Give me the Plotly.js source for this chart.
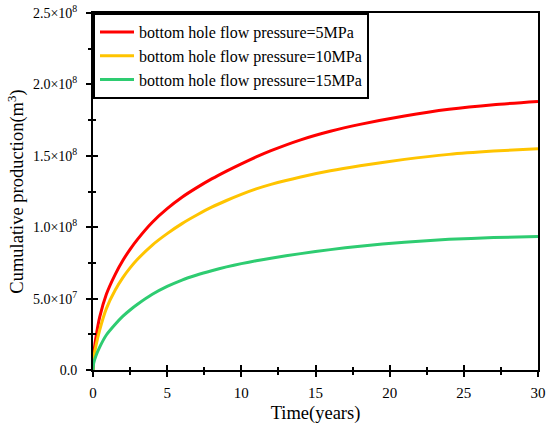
<!DOCTYPE html>
<html>
<head>
<meta charset="utf-8">
<script src="https://cdn.plot.ly/plotly-3.0.1.min.js"></script>
<style>html,body{margin:0;padding:0;background:#fff;}#chart{width:550px;height:427px;}</style>
</head>
<body>
<div id="chart"></div>
<script>
// Time (years)
var timeYears = [0, 0.05, 0.2, 0.45, 0.9, 1.5, 2, 2.5, 3, 4, 5, 6, 7, 8, 9, 10, 11, 12, 14, 16, 18, 21, 24, 27, 30];
// Cumulative production, in units of 1e8 m^3
var prod5MPa  = [0, 0.11, 0.23, 0.37, 0.53, 0.67, 0.765, 0.845, 0.915, 1.035, 1.13, 1.21, 1.277, 1.338, 1.393, 1.444, 1.492, 1.536, 1.612, 1.672, 1.72, 1.779, 1.826, 1.858, 1.88];
var prod10MPa = [0, 0.08, 0.17, 0.28, 0.43, 0.56, 0.645, 0.715, 0.775, 0.875, 0.955, 1.025, 1.085, 1.14, 1.187, 1.23, 1.268, 1.30, 1.352, 1.395, 1.43, 1.475, 1.51, 1.533, 1.55];
var prod15MPa = [0, 0.05, 0.10, 0.16, 0.245, 0.32, 0.375, 0.42, 0.46, 0.53, 0.585, 0.63, 0.665, 0.695, 0.722, 0.745, 0.765, 0.783, 0.815, 0.843, 0.867, 0.895, 0.915, 0.927, 0.934];
var seriesNames = ["bottom hole flow pressure=5MPa", "bottom hole flow pressure=10MPa", "bottom hole flow pressure=15MPa"];
var yTickVals = [0, 0.5, 1.0, 1.5, 2.0, 2.5];
var yTickText = ["0.0", "5.0×10<sup>7</sup>", "1.0×10<sup>8</sup>", "1.5×10<sup>8</sup>", "2.0×10<sup>8</sup>", "2.5×10<sup>8</sup>"];
var xTickVals = [0, 5, 10, 15, 20, 25, 30];

var FONT = "Liberation Serif, Times New Roman, serif";
var colors = ["#ff0000", "#ffc400", "#2ecc71"];
var series = [prod5MPa, prod10MPa, prod15MPa];

var traces = series.map(function (ys, i) {
  return {
    x: timeYears, y: ys, name: seriesNames[i], type: "scatter", mode: "lines",
    line: {color: colors[i], width: 3, shape: "spline", smoothing: 0.5}
  };
});
// invisible copy on the overlay axes so the inward half of each tick is drawn
traces.push({x: timeYears, y: prod15MPa, xaxis: "x2", yaxis: "y2", mode: "lines",
  line: {width: 0}, opacity: 0, showlegend: false, hoverinfo: "skip"});

var commonAx = {showgrid: false, zeroline: false, tickcolor: "#000", tickwidth: 2};

var layout = {
  width: 550, height: 427,
  margin: {l: 93, r: 12, t: 13, b: 57},
  paper_bgcolor: "#fff", plot_bgcolor: "#fff",
  font: {family: FONT, color: "#000", size: 14},
  showlegend: true,
  legend: {
    x: 0, y: 1, xanchor: "left", yanchor: "top",
    bordercolor: "#000", borderwidth: 2, bgcolor: "#fff",
    font: {family: FONT, size: 16, color: "#000"},
    tracegroupgap: 0, itemwidth: 34
  },
  xaxis: Object.assign({}, commonAx, {
    range: [0, 30], tickvals: xTickVals, ticktext: xTickVals.map(String),
    ticks: "outside", ticklen: 5,
    minor: {dtick: 2.5, tick0: 0, ticks: "outside", ticklen: 3, tickwidth: 2, tickcolor: "#000", showgrid: false},
    showline: true, linecolor: "#000", linewidth: 2, mirror: true,
    tickfont: {family: FONT, size: 15, color: "#000"},
    ticklabelstandoff: 3,
    title: {text: "Time(years)", font: {family: FONT, size: 18.5, color: "#000"}, standoff: 6}
  }),
  yaxis: Object.assign({}, commonAx, {
    range: [0, 2.5], tickvals: yTickVals, ticktext: yTickText,
    ticks: "outside", ticklen: 5,
    minor: {dtick: 0.25, tick0: 0, ticks: "outside", ticklen: 3, tickwidth: 2, tickcolor: "#000", showgrid: false},
    showline: true, linecolor: "#000", linewidth: 2, mirror: true,
    tickfont: {family: FONT, size: 14, color: "#000"},
    ticklabelstandoff: 6,
    title: {text: "Cumulative production(m<sup>3</sup>)", font: {family: FONT, size: 18.5, color: "#000"}, standoff: 4}
  }),
  xaxis2: Object.assign({}, commonAx, {
    overlaying: "x", anchor: "y2", side: "bottom", range: [0, 30], dtick: 5, tick0: 0,
    ticks: "inside", ticklen: 5, showticklabels: false, showline: false,
    minor: {dtick: 2.5, tick0: 0, ticks: "inside", ticklen: 3, tickwidth: 2, tickcolor: "#000", showgrid: false}
  }),
  yaxis2: Object.assign({}, commonAx, {
    overlaying: "y", anchor: "x2", side: "left", range: [0, 2.5], dtick: 0.5, tick0: 0,
    ticks: "inside", ticklen: 5, showticklabels: false, showline: false,
    minor: {dtick: 0.25, tick0: 0, ticks: "inside", ticklen: 3, tickwidth: 2, tickcolor: "#000", showgrid: false}
  })
};

Plotly.newPlot("chart", traces, layout, {displayModeBar: false, staticPlot: true});
</script>
</body>
</html>
